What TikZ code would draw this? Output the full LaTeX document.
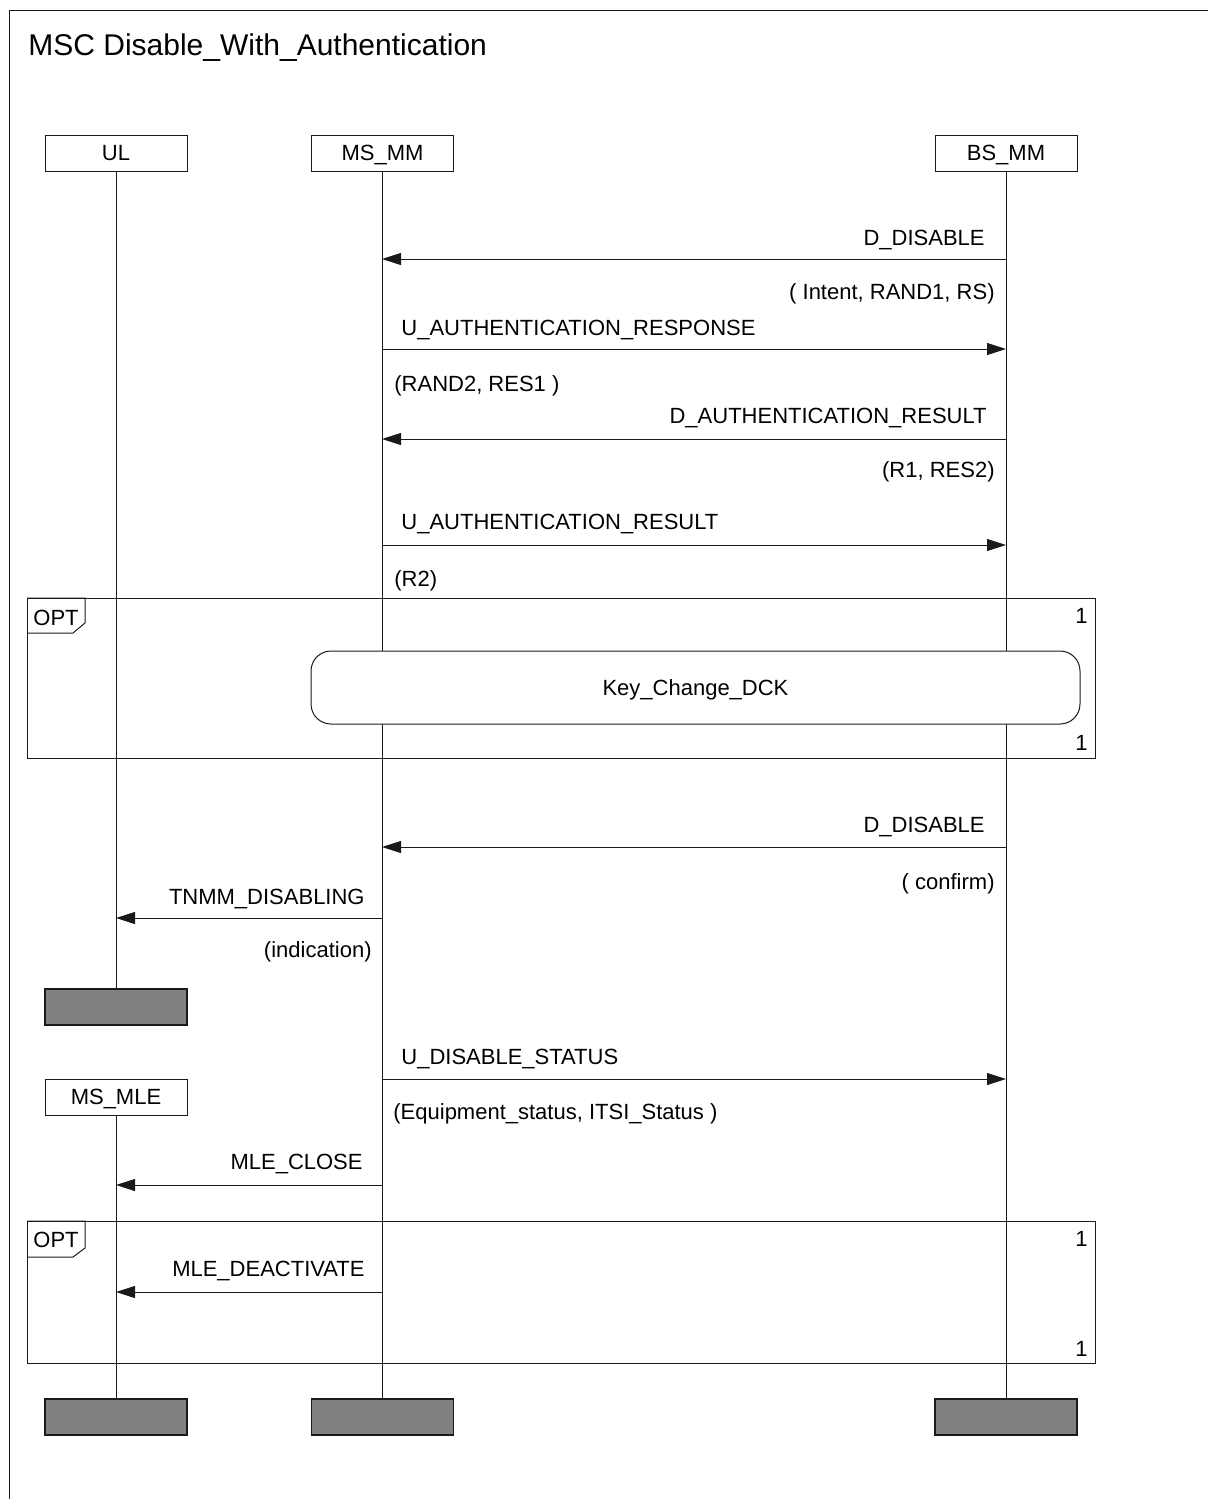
\documentclass[tikz,border=0pt]{standalone}
\usepackage{fontspec}
\setmainfont{Liberation Sans}
\usetikzlibrary{arrows.meta}
\definecolor{endgray}{HTML}{808080}
\definecolor{linec}{HTML}{1A1A1A}
\begin{document}
\begin{tikzpicture}[x=0.5pt,y=-0.5pt,
  every node/.style={font=\fontsize{11}{13}\selectfont, inner sep=0pt},
  lbl/.style={anchor=base east},
  lbll/.style={anchor=base west},
  head/.style={draw=linec, fill=white, minimum width=71pt, minimum height=18pt, text height=7.9pt, text depth=0pt, line width=0.5pt},
  endbox/.style={draw=linec, fill=endgray, minimum width=71pt, minimum height=18pt, line width=0.6pt},
  life/.style={draw=linec, line width=0.5pt},
  msg/.style={draw=linec, line width=0.5pt, -{Triangle[length=9.5pt,width=6pt]}},
  frm/.style={draw=linec, line width=0.5pt}
]
\useasboundingbox (0,0) rectangle (1208,1499);
% outer frame
\draw[frm] (9,1499) -- (9,10) -- (1208,10);
\node[anchor=base west, font=\fontsize{15}{18}\selectfont] (title) at (28,55) {MSC Disable\_With\_Authentication};

% instance heads
\node[head] (ul) at (116,153) {UL};
\node[head] (msmm) at (382.5,153) {MS\_MM};
\node[head] (bsmm) at (1006,153) {BS\_MM};
\node[endbox] (ulstop) at (116,1007) {};
\node[head] (msmle) at (116,1097) {MS\_MLE};
\node[endbox] (msmleend) at (116,1417) {};
\node[endbox] (msmmend) at (382.5,1417) {};
\node[endbox] (bsmmend) at (1006,1417) {};

% lifelines
\draw[life] (ul.south) -- (ulstop.north);
\draw[life] (msmm.south) -- (msmmend.north);
\draw[life] (bsmm.south) -- (bsmmend.north);
\draw[life] (msmle.south) -- (msmleend.north);

% message 1
\coordinate (m1a) at (1006,259); \coordinate (m1b) at (382,259);
\draw[msg] (m1a) -- (m1b);
\node[lbl] (l1) at (985,245) {D\_DISABLE};
\node[lbl] (p1) at (995,299) {( Intent, RAND1, RS)};
% message 2
\coordinate (m2a) at (382,349); \coordinate (m2b) at (1006,349);
\draw[msg] (m2a) -- (m2b);
\node[lbll] (l2) at (401,335) {U\_AUTHENTICATION\_RESPONSE};
\node[lbll] (p2) at (394,391) {(RAND2, RES1 )};
% message 3
\coordinate (m3a) at (1006,439); \coordinate (m3b) at (382,439);
\draw[msg] (m3a) -- (m3b);
\node[lbl] (l3) at (987,423) {D\_AUTHENTICATION\_RESULT};
\node[lbl] (p3) at (995,477) {(R1, RES2)};
% message 4
\coordinate (m4a) at (382,545); \coordinate (m4b) at (1006,545);
\draw[msg] (m4a) -- (m4b);
\node[lbll] (l4) at (401,529) {U\_AUTHENTICATION\_RESULT};
\node[lbll] (p4) at (394,586) {(R2)};

% OPT frame 1
\draw[frm] (27,598) rectangle (1095,758);
\draw[frm] (27,598) -- (85,598) -- (85,623) -- (73,633) -- (27,633);
\node[anchor=base west] (opt1) at (33,625) {OPT};
\node[anchor=base east] (o1t) at (1088,623) {1};
\node[anchor=base east] (o1b) at (1088,750) {1};
\node[draw=linec, fill=white, line width=0.5pt, rounded corners=10pt, minimum width=384.5pt, minimum height=36.5pt, text height=7.9pt, text depth=0pt] (kcd) at (695.5,687.5) {Key\_Change\_DCK};

% message 5
\coordinate (m5a) at (1006,847); \coordinate (m5b) at (382,847);
\draw[msg] (m5a) -- (m5b);
\node[lbl] (l5) at (985,832) {D\_DISABLE};
\node[lbl] (p5) at (995,889) {( confirm)};
% message 6
\coordinate (m6a) at (382,918); \coordinate (m6b) at (116,918);
\draw[msg] (m6a) -- (m6b);
\node[lbl] (l6) at (365,904) {TNMM\_DISABLING};
\node[lbl] (p6) at (372,957) {(indication)};
% message 7
\coordinate (m7a) at (382,1079); \coordinate (m7b) at (1006,1079);
\draw[msg] (m7a) -- (m7b);
\node[lbll] (l7) at (401,1064) {U\_DISABLE\_STATUS};
\node[lbll] (p7) at (393,1119) {(Equipment\_status, ITSI\_Status )};
% message 8
\coordinate (m8a) at (382,1185); \coordinate (m8b) at (116,1185);
\draw[msg] (m8a) -- (m8b);
\node[lbl] (l8) at (363,1169) {MLE\_CLOSE};

% OPT frame 2
\draw[frm] (27,1221) rectangle (1095,1363);
\draw[frm] (27,1221) -- (85,1221) -- (85,1248) -- (73,1257) -- (27,1257);
\node[anchor=base west] (opt2) at (33,1247) {OPT};
\node[anchor=base east] (o2t) at (1088,1246) {1};
\node[anchor=base east] (o2b) at (1088,1356) {1};
% message 9
\coordinate (m9a) at (382,1292); \coordinate (m9b) at (116,1292);
\draw[msg] (m9a) -- (m9b);
\node[lbl] (l9) at (365,1276) {MLE\_DEACTIVATE};
\end{tikzpicture}
\end{document}
